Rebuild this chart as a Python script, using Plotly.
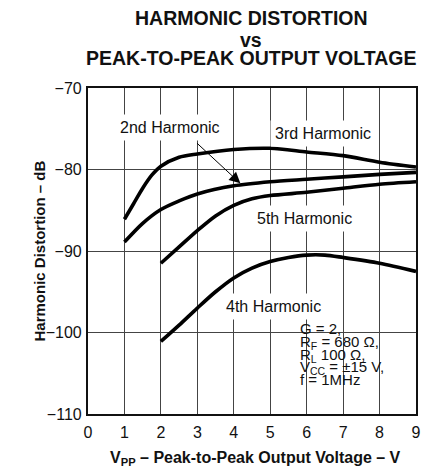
import plotly.graph_objects as go

# ---------------- data ----------------
x_3rd = [1, 1.25, 1.5, 1.75, 2, 2.5, 3, 4, 5, 6, 7, 8, 9]
y_3rd = [-86.1, -84.2, -82.3, -80.7, -79.6, -78.5, -78.1, -77.55, -77.4, -77.85, -78.3, -79.1, -79.7]

x_2nd = [1, 1.5, 2, 2.5, 3, 4, 5, 6, 7, 8, 9]
y_2nd = [-88.9, -86.6, -84.9, -83.85, -83.0, -82.0, -81.5, -81.2, -80.9, -80.6, -80.35]

x_5th = [2, 2.5, 3, 3.5, 4, 4.5, 5, 6, 7, 8, 9]
y_5th = [-91.5, -89.5, -87.5, -85.7, -84.4, -83.6, -83.2, -82.8, -82.3, -81.8, -81.5]

x_4th = [2, 2.5, 3, 3.5, 4, 4.5, 5, 5.5, 6, 6.5, 7, 8, 9]
y_4th = [-101.1, -99.1, -97.0, -95.0, -93.3, -92.1, -91.3, -90.8, -90.5, -90.5, -90.8, -91.5, -92.5]

x_ticks = [0, 1, 2, 3, 4, 5, 6, 7, 8, 9]
y_ticks = [-110, -100, -90, -80, -70]

title_lines = ["HARMONIC DISTORTION", "vs", "PEAK-TO-PEAK OUTPUT VOLTAGE"]
cond_lines = ["G = 2,", "R<sub>F</sub> = 680 Ω,", "R<sub>L</sub> 100 Ω,",
              "V<sub>CC</sub> = ±15 V,", "f = 1MHz"]

FONT = "Liberation Sans, Arial, sans-serif"

# ---------------- layout geometry ----------------
W, H = 436, 470
ML, MR, MT, MB = 88, 20, 88, 56
PW, PH = W - ML - MR, H - MT - MB


def px(xp):
    return (xp - ML) / PW


def py(yp):
    return (H - MB - yp) / PH


fig = go.Figure()
for xs, ys, name in [(x_3rd, y_3rd, "3rd Harmonic"), (x_2nd, y_2nd, "2nd Harmonic"),
                     (x_5th, y_5th, "5th Harmonic"), (x_4th, y_4th, "4th Harmonic")]:
    fig.add_trace(go.Scatter(x=xs, y=ys, mode="lines", name=name,
                             line=dict(color="black", width=3.6, shape="spline", smoothing=0.8),
                             hoverinfo="skip"))

annotations = []
# curve labels (white background masks the grid as in the reference)
for text, xx, yy in [("2nd Harmonic", 2.26, -74.8), ("3rd Harmonic", 6.44, -75.6),
                     ("5th Harmonic", 5.95, -86.0), ("4th Harmonic", 5.10, -96.8)]:
    annotations.append(dict(x=xx, y=yy, xref="x", yref="y", text=text, showarrow=False,
                            font=dict(family=FONT, size=16, color="#111"),
                            bgcolor="white", borderpad=4))
# arrow to 2nd harmonic curve
annotations.append(dict(x=4.18, y=-81.7, ax=2.95, ay=-76.6, xref="x", yref="y",
                        axref="x", ayref="y", text="", showarrow=True,
                        arrowhead=2, arrowsize=2.2, arrowwidth=1, arrowcolor="black"))
for i, t in enumerate(cond_lines):
    annotations.append(dict(x=px(298), y=py(318 + 12.8 * i), xref="paper", yref="paper",
                            text=t, showarrow=False, xanchor="left", yanchor="top",
                            font=dict(family=FONT, size=15, color="#111")))
# title lines
for t, yc in zip(title_lines, [17.5, 40, 58.5]):
    annotations.append(dict(x=px(251), y=py(yc), xref="paper", yref="paper", text="<b>%s</b>" % t,
                            showarrow=False, yanchor="middle",
                            font=dict(family=FONT, size=19.5, color="#111")))
# axis titles
annotations.append(dict(x=px(28), y=0.5, xref="paper", yref="paper",
                        text="<b>Harmonic Distortion – dB</b>", textangle=-90, showarrow=False,
                        font=dict(family=FONT, size=15, color="#111")))
annotations.append(dict(x=px(255), y=py(458), xref="paper", yref="paper",
                        text="<b>V<sub>PP</sub> – Peak-to-Peak Output Voltage – V</b>",
                        showarrow=False, yanchor="middle",
                        font=dict(family=FONT, size=16, color="#111")))

# white mask behind the test-conditions text (hides grid, keeps frame/ticks)
shapes = [dict(type="rect", xref="paper", yref="paper", x0=px(284), x1=px(412),
               y0=py(409), y1=py(318), fillcolor="white", line=dict(width=0), layer="between")]

axis_common = dict(showline=True, linewidth=2.2, linecolor="#111", mirror="ticks",
                   showgrid=True, gridcolor="#444", gridwidth=1,
                   ticks="inside", ticklen=5, tickcolor="#444", zeroline=False,
                   tickfont=dict(family=FONT, size=16, color="#111"), fixedrange=True)

fig.update_layout(
    width=W, height=H, margin=dict(l=ML, r=MR, t=MT, b=MB),
    paper_bgcolor="white", plot_bgcolor="white", showlegend=False,
    xaxis=dict(range=[0, 9], tickvals=x_ticks, ticktext=[str(v) for v in x_ticks],
               ticklabelstandoff=3, **axis_common),
    yaxis=dict(range=[-110, -70], tickvals=y_ticks, ticklabelstandoff=1, **axis_common),
    annotations=annotations, shapes=shapes,
)

fig.write_html("out.html", config={"displayModeBar": False},
               post_script="document.body.style.margin='0';")
